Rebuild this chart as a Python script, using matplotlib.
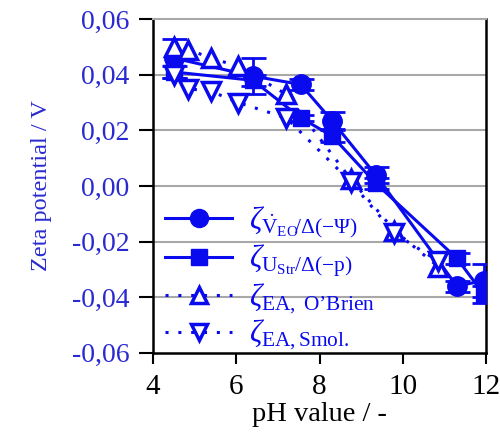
import matplotlib
matplotlib.use("Agg")
import matplotlib.pyplot as plt
from matplotlib.lines import Line2D

plt.rcParams['font.family'] = ['Liberation Serif', 'DejaVu Serif']
plt.rcParams['mathtext.fontset'] = 'custom'
plt.rcParams['mathtext.rm'] = 'Liberation Serif'
plt.rcParams['mathtext.it'] = 'Liberation Serif:italic'
plt.rcParams['mathtext.bf'] = 'Liberation Serif:bold'

# data
ph_main = [4.5, 6.4, 7.55, 8.3, 9.35, 11.3, 11.95]
zeta_eo = [0.046, 0.0395, 0.0365, 0.0235, 0.004, -0.036, -0.034]
zeta_eo_err = [0.007, 0.0065, 0.002, 0.003, 0.003, 0.002, 0.006]
zeta_str = [0.041, 0.038, 0.0245, 0.018, 0.001, -0.026, -0.039]
zeta_str_err = [0.002, 0.002, 0.001, 0.002, 0.002, 0.002, 0.003]

ph_ea = [4.5, 4.85, 5.4, 6.05, 7.2, 8.75, 9.8, 10.85]
zeta_obrien = [0.050, 0.049, 0.046, 0.043, 0.033, 0.0025, -0.016, -0.029]
zeta_smol = [0.040, 0.035, 0.034, 0.030, 0.0245, 0.0015, -0.017, -0.027]

xticks = [4, 6, 8, 10, 12]
yticks = [-0.06, -0.04, -0.02, 0.00, 0.02, 0.04, 0.06]
ytick_labels = ['-0,06', '-0,04', '-0,02', '0,00', '0,02', '0,04', '0,06']
grid_levels = [-0.04, -0.02, 0.0, 0.02, 0.04]

labels = [r'$\zeta_{\dot{\mathrm{V}}_{\mathrm{EO}}\!/\Delta(-\Psi)}$',
          r'$\zeta_{\mathrm{U}_{\mathrm{Str}}/\Delta(\mathrm{-p})}$',
          '$\\zeta_{\\mathrm{EA,\\ O\u2019Brien}}$',
          r'$\zeta_{\mathrm{EA,Smol.}}$']

blue = '#0a0aee'
lblue = '#2a2ad0'
dots = (0, (1, 3.2))

fig = plt.figure(figsize=(5, 4.45), dpi=100)
ax = fig.add_axes([0.306, 0.207, 0.666, 0.750])

ax.errorbar(ph_main, zeta_eo, yerr=zeta_eo_err, color=blue, lw=2.2, marker='o',
            ms=14, capsize=9, capthick=2, elinewidth=2, zorder=3)
ax.errorbar(ph_main, zeta_str, yerr=zeta_str_err, color=blue, lw=2.2, marker='s',
            ms=12, capsize=9, capthick=2, elinewidth=2, zorder=3)
ax.plot(ph_ea, zeta_obrien, color=blue, lw=2.2, ls=dots, marker='^', ms=13,
        mfc='white', mew=2.5, zorder=4)
ax.plot(ph_ea, zeta_smol, color=blue, lw=2.2, ls=dots, marker='v', ms=13,
        mfc='white', mew=2.5, zorder=4)

ax.set_xlim(4, 12)
ax.set_ylim(-0.06, 0.06)
ax.set_xticks(xticks)
ax.set_yticks(yticks)
ax.set_yticklabels(ytick_labels)
ax.tick_params(axis='y', labelsize=20, labelcolor=lblue, length=10, width=1.5, direction='out', pad=7)
ax.tick_params(axis='x', labelsize=21, length=8, width=1.5, direction='out', pad=7)

for y in grid_levels:
    ax.axhline(y, color='#a8a8a8', lw=1.5, zorder=0)

for s in ['left', 'bottom', 'right']:
    ax.spines[s].set_color('black')
    ax.spines[s].set_linewidth(1.8)
ax.spines['top'].set_color('#a8a8a8')
ax.spines['top'].set_linewidth(1.5)

ax.set_ylabel('Zeta potential / V', fontsize=17.5, color=lblue, labelpad=14)
ax.set_xlabel('pH value / -', fontsize=20.5, labelpad=2)

handles = [
    Line2D([], [], color=blue, lw=2.2, marker='o', ms=13),
    Line2D([], [], color=blue, lw=2.2, marker='s', ms=12),
    Line2D([], [], color=blue, lw=2.2, ls=dots, marker='^', ms=12, mfc='white', mew=2.5),
    Line2D([], [], color=blue, lw=2.2, ls=dots, marker='v', ms=12, mfc='white', mew=2.5),
]
leg = ax.legend(handles, labels, loc='lower left', bbox_to_anchor=(0.0, -0.035), frameon=False,
                fontsize=22, handlelength=2.2, handletextpad=0.55, labelspacing=0.08,
                borderaxespad=0.1, borderpad=0.3, labelcolor=blue)

fig.savefig('out.png', dpi=100)
